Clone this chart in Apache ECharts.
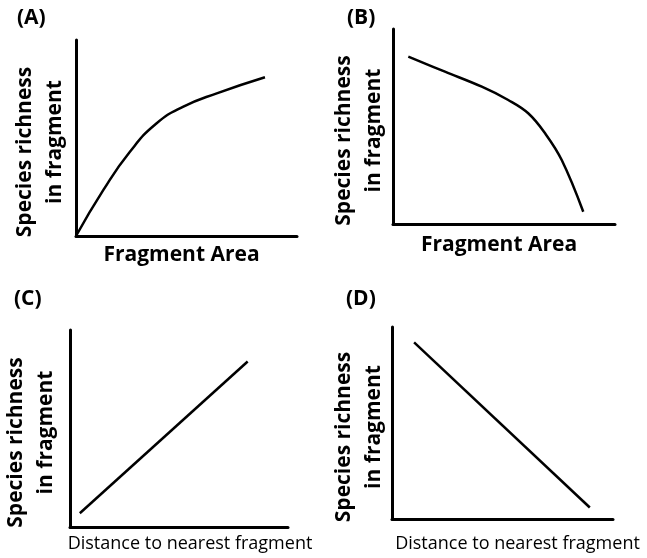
<!DOCTYPE html>
<html>
<head>
<meta charset="utf-8">
<script src="https://cdn.jsdelivr.net/npm/echarts@6/dist/echarts.min.js"></script>
<style>
  html, body { margin: 0; padding: 0; background: #fff; }
  #chart { width: 647px; height: 558px; }
</style>
</head>
<body>
<div id="chart"></div>
<script>
// values, axes scaled 0..100
var panelLabels = ['(A)', '(B)', '(C)', '(D)'];
var xNames = ['Fragment Area', 'Fragment Area', 'Distance to nearest fragment', 'Distance to nearest fragment'];
var yName = '{a|Species richness}\n{b|in fragment}';

var curveA = [[0, 0], [12.4, 23.5], [24.4, 43], [36.5, 57.5], [48.6, 66], [63.7, 72.8], [85.5, 81]];
var curveB = [[6.9, 85.8], [23.4, 78.1], [40, 70.4], [51.9, 63.6], [60.9, 56.8], [68.5, 46.5], [76, 32.8], [85.7, 6.3]];
var lineC = [[4.5, 7], [81.5, 84]];
var lineD = [[10, 92], [89.5, 6]];

var FONT = '"Open Sans", "Noto Sans", sans-serif';

var grids = [
  { left: 76, top: 40, width: 221, height: 196 },
  { left: 393, top: 29, width: 222, height: 195 },
  { left: 67, top: 330, width: 221, height: 197 },
  { left: 392, top: 327, width: 221, height: 192 }
];
var xGaps = [9, 11, 8, 16];
var xShift = [-10, -10, 22, 30];
var yGaps = [6, 4, 9, 3];
var labelPos = [[17, 8], [347, 8], [14, 289], [346, 289]];

var axisLine = { show: true, onZero: false, lineStyle: { color: '#000', width: 3 } };

var chart = echarts.init(document.getElementById('chart'));

var nameLine = { color: '#000', fontFamily: FONT, fontSize: 21, fontWeight: 'bold', lineHeight: 30 };

var xAxis = [], yAxis = [], titles = [];
grids.forEach(function (g, i) {
  xAxis.push({
    type: 'value', gridIndex: i, min: 0, max: 100,
    axisLine: axisLine, axisTick: { show: false }, axisLabel: { show: false }, splitLine: { show: false },
    name: xNames[i], nameLocation: 'middle', nameGap: xGaps[i],
    nameTextStyle: {
      color: '#000', fontFamily: FONT,
      fontSize: i < 2 ? 21 : 18, fontWeight: i < 2 ? 'bold' : 'normal',
      padding: xShift[i] > 0 ? [0, 0, 0, xShift[i]] : [0, -xShift[i], 0, 0]
    }
  });
  yAxis.push({
    type: 'value', gridIndex: i, min: 0, max: 100,
    axisLine: axisLine, axisTick: { show: false }, axisLabel: { show: false }, splitLine: { show: false },
    name: yName, nameLocation: 'middle', nameGap: yGaps[i], nameRotate: 90,
    nameTextStyle: {
      color: '#000', fontFamily: FONT, fontSize: 21, fontWeight: 'bold', lineHeight: 30, align: 'center',
      padding: [0, 8, 0, 0],
      rich: {
        a: Object.assign({ padding: [0, 20, 0, 0] }, nameLine),
        b: nameLine
      }
    }
  });
  titles.push({
    text: panelLabels[i], left: labelPos[i][0], top: labelPos[i][1], padding: 0,
    textStyle: { color: '#000', fontFamily: FONT, fontSize: 21, fontWeight: 'bold' }
  });
});

function lineSeries(idx, data, smooth) {
  return {
    type: 'line', xAxisIndex: idx, yAxisIndex: idx, data: data,
    smooth: smooth, showSymbol: false, silent: true,
    lineStyle: { color: '#000', width: 2.5 }
  };
}

chart.setOption({
  animation: false,
  backgroundColor: '#fff',
  title: titles,
  grid: grids,
  xAxis: xAxis,
  yAxis: yAxis,
  series: [
    lineSeries(0, curveA, 0.5),
    lineSeries(1, curveB, 0.4),
    lineSeries(2, lineC, false),
    lineSeries(3, lineD, false)
  ]
});
</script>
</body>
</html>
